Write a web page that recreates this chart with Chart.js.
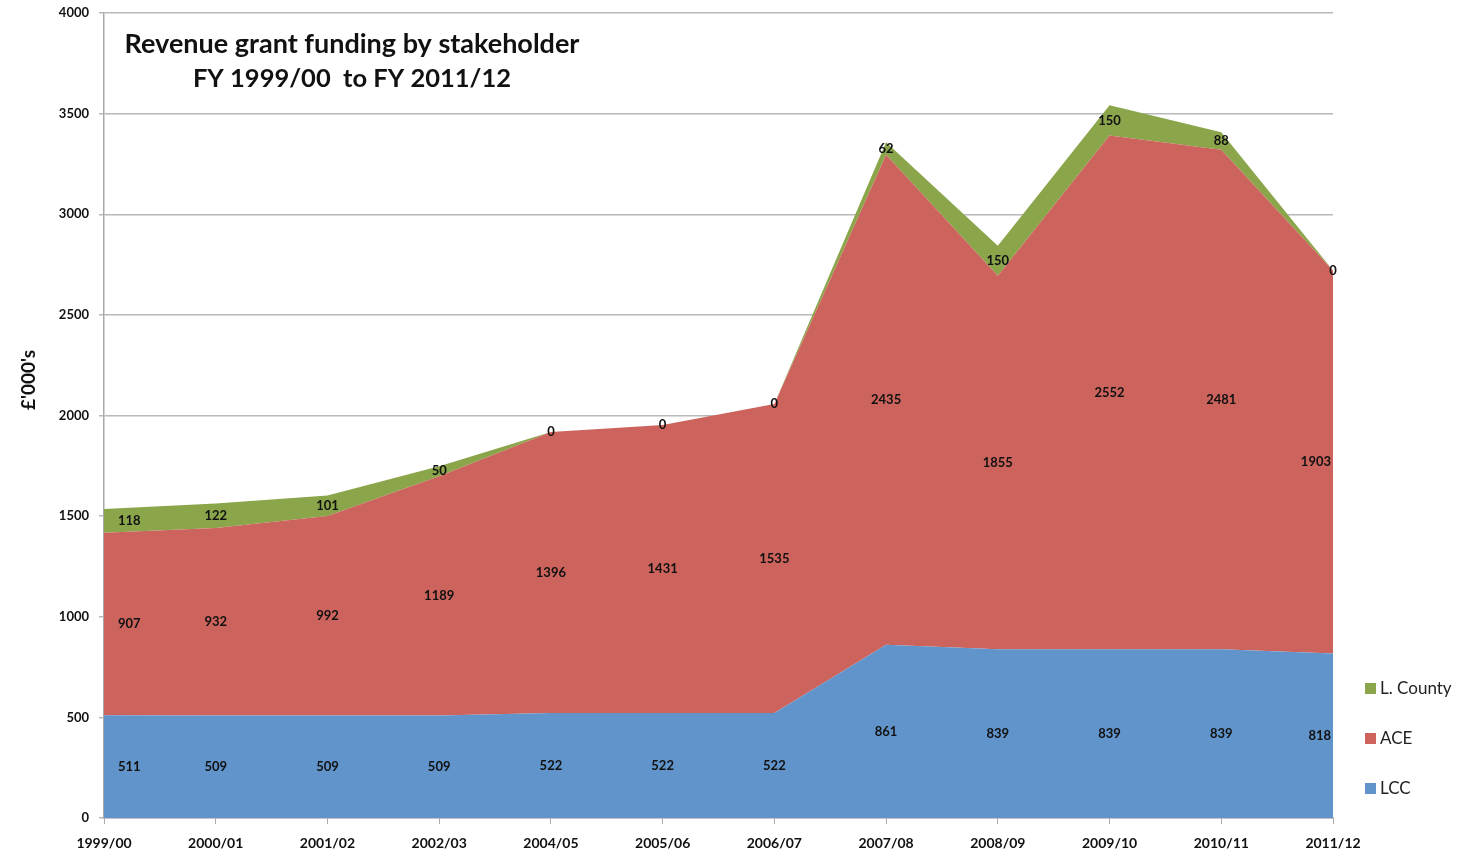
<!DOCTYPE html>
<html>
<head>
<meta charset="utf-8">
<script src="https://cdn.jsdelivr.net/npm/chart.js@4/dist/chart.umd.min.js"></script>
<style>
  html, body { margin: 0; padding: 0; background: #fff; }
  #wrap { width: 1476px; height: 853px; position: relative; }
</style>
</head>
<body>
<div id="wrap"><canvas id="myChart"></canvas></div>
<script>
// ==========================
// DATA
// ==========================
const years = ["1999/00", "2000/01", "2001/02", "2002/03", "2004/05", "2005/06",
  "2006/07", "2007/08", "2008/09", "2009/10", "2010/11", "2011/12"];
const lcc = [511, 509, 509, 509, 522, 522, 522, 861, 839, 839, 839, 818];
const ace = [907, 932, 992, 1189, 1396, 1431, 1535, 2435, 1855, 2552, 2481, 1903];
const lCounty = [118, 122, 101, 50, 0, 0, 0, 62, 150, 150, 88, 0];

const titleLines = ["Revenue grant funding by stakeholder", "FY 1999/00  to FY 2011/12"];
const yTitle = "£'000's";

// ==========================
// COLOURS / FONTS
// ==========================
const BLUE = "rgb(96,148,202)";
const RED = "rgb(204,99,92)";
const GREEN = "rgb(138,165,74)";
const FONT = "Lato, 'Open Sans', 'DejaVu Sans', sans-serif";

// ==========================
// PLUGIN: labels, title, legend
// ==========================
const extras = {
  id: "extras",
  afterDatasetsDraw(chart) {
    const { ctx, chartArea } = chart;
    const y = chart.scales.y;
    ctx.save();
    ctx.fillStyle = "#111";
    ctx.font = "bold 13px " + FONT;
    ctx.textBaseline = "middle";

    chart.data.datasets.forEach((ds, di) => {
      const meta = chart.getDatasetMeta(di);
      meta.data.forEach((pt, i) => {
        let base = 0;
        for (let k = 0; k < di; k++) base += chart.data.datasets[k].data[i];
        const v = ds.data[i];
        const py = y.getPixelForValue(base + v / 2);
        let px = pt.x;
        ctx.textAlign = "center";
        if (i === 0) { ctx.textAlign = "left"; px = pt.x + 14; }
        if (i === years.length - 1 && v !== 0) { ctx.textAlign = "right"; px = chartArea.right - 2; }
        ctx.fillText(String(v), px, py);
      });
    });

    // title inside plot
    ctx.textAlign = "center";
    ctx.fillStyle = "#111";
    ctx.font = "bold 27px " + FONT;
    ctx.fillText(titleLines[0], 352, 44);
    ctx.font = "bold 25.5px " + FONT;
    ctx.fillText(titleLines[1], 352, 79);

    // y axis title
    ctx.save();
    ctx.translate(29, 380);
    ctx.rotate(-Math.PI / 2);
    ctx.font = "bold 19px " + FONT;
    ctx.fillText(yTitle, 0, 0);
    ctx.restore();

    // legend (reversed)
    const items = [["L. County", GREEN], ["ACE", RED], ["LCC", BLUE]];
    ctx.font = "17px " + FONT;
    ctx.textAlign = "left";
    items.forEach((it, k) => {
      const ly = 689 + k * 50;
      ctx.fillStyle = it[1];
      ctx.fillRect(1365, ly - 6, 11, 11);
      ctx.fillStyle = "#222";
      ctx.fillText(it[0], 1380, ly);
    });
    ctx.restore();
  }
};

// ==========================
// CHART
// ==========================
const ctx = document.getElementById("myChart").getContext("2d");

let chart = new Chart(ctx, {
  type: "line",
  data: {
    labels: years,
    datasets: [
      { label: "LCC", data: lcc, backgroundColor: BLUE, borderWidth: 0, fill: "origin" },
      { label: "ACE", data: ace, backgroundColor: RED, borderWidth: 0, fill: "-1" },
      { label: "L. County", data: lCounty, backgroundColor: GREEN, borderWidth: 0, fill: "-1" }
    ]
  },
  options: {
    responsive: true,
    maintainAspectRatio: false,
    animation: false,
    elements: { point: { radius: 0 }, line: { tension: 0 } },
    layout: { padding: { top: 13, right: 143, bottom: 0, left: 0 } },
    plugins: { legend: { display: false }, tooltip: { enabled: false } },
    scales: {
      x: {
        offset: false,
        grid: { drawOnChartArea: false, drawTicks: true, tickLength: 6, color: "#aaa" },
        border: { color: "#aaa", width: 1.5 },
        ticks: { color: "#111", font: { family: FONT, weight: "bold", size: 14 }, padding: 11, maxRotation: 0, autoSkip: false },
        afterFit: s => { s.height = 35; }
      },
      y: {
        stacked: true,
        min: 0,
        max: 4000,
        ticks: { stepSize: 500, color: "#111", font: { family: FONT, weight: "bold", size: 13 }, padding: 10,
          callback: v => String(v) },
        grid: { color: "#b8b8b8", lineWidth: 1.5, tickLength: 5 },
        border: { color: "#aaa", width: 1.5 },
        afterFit: s => { s.width = 104; s.paddingTop = 0; s.paddingBottom = 0; }
      }
    }
  },
  plugins: [extras]
});
</script>
</body>
</html>
